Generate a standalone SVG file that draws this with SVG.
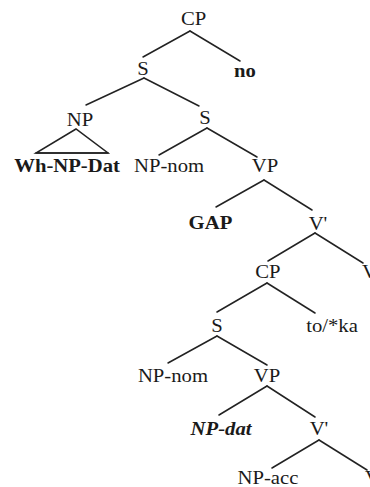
<svg xmlns="http://www.w3.org/2000/svg" width="370" height="487" viewBox="0 0 370 487">
  <style>
    .edge { stroke: #222; stroke-width: 1.5; fill: none; stroke-linecap: round; }
    .lbl { font-family: "Liberation Serif", "DejaVu Serif", serif; font-size: 18px; fill: #1a1a1a; text-anchor: middle; }
    .b { font-weight: bold; }
    .bi { font-weight: bold; font-style: italic; }
    .st { text-anchor: start; }
  </style>
  <rect width="370" height="487" fill="#fff"/>

  <!-- branches -->
  <g id="connectors">
    <line class="edge" x1="190" y1="31" x2="143" y2="57"/>
    <line class="edge" x1="190" y1="31" x2="240" y2="61"/>
    <line class="edge" x1="144" y1="78" x2="86" y2="105"/>
    <line class="edge" x1="144" y1="78" x2="199" y2="106"/>
    <line class="edge" x1="207" y1="128" x2="159" y2="155"/>
    <line class="edge" x1="207" y1="128" x2="257" y2="157"/>
    <line class="edge" x1="264" y1="180" x2="216" y2="207"/>
    <line class="edge" x1="264" y1="180" x2="312" y2="210"/>
    <line class="edge" x1="315" y1="233" x2="268" y2="261"/>
    <line class="edge" x1="315" y1="233" x2="363" y2="263"/>
    <line class="edge" x1="267" y1="283" x2="217" y2="312"/>
    <line class="edge" x1="267" y1="283" x2="315" y2="313"/>
    <line class="edge" x1="217" y1="336" x2="168" y2="363"/>
    <line class="edge" x1="217" y1="336" x2="267" y2="365"/>
    <line class="edge" x1="267" y1="386" x2="219" y2="415"/>
    <line class="edge" x1="267" y1="386" x2="315" y2="417"/>
    <line class="edge" x1="319" y1="440" x2="272" y2="468"/>
    <line class="edge" x1="319" y1="440" x2="367" y2="470"/>
    <!-- roof over the wh-phrase -->
    <path class="edge" d="M76 129 L36 153 L108 153 Z"/>
    <line class="edge" x1="36" y1="153" x2="108" y2="153" stroke-width="2.2"/>
  </g>

  <!-- labels: Times-style type set slightly wide -->
  <g transform="scale(1.15 1)" font-family="Liberation Serif, serif">
    <g id="cp1"><text class="lbl" x="168.3" y="25">CP</text></g>
    <g id="s1"><text class="lbl" x="124.3" y="75">S</text></g>
    <g id="no"><text class="lbl b" x="213" y="77">no</text></g>
    <g id="np1"><text class="lbl" x="69.6" y="126">NP</text></g>
    <g id="whnp"><text class="lbl b" x="58.3" y="172">Wh-NP-Dat</text></g>
    <g id="s2"><text class="lbl" x="178.3" y="124">S</text></g>
    <g id="npnom1"><text class="lbl" x="147" y="172">NP-nom</text></g>
    <g id="vp1"><text class="lbl" x="230.4" y="172">VP</text></g>
    <g id="gap"><text class="lbl b" x="183" y="229">GAP</text></g>
    <g id="vbar1"><text class="lbl" x="276.5" y="230">V'</text></g>
    <g id="cp2"><text class="lbl" x="233" y="278">CP</text></g>
    <g id="v1"><text class="lbl st" x="314.8" y="278">V</text></g>
    <g id="s3"><text class="lbl" x="188.7" y="332">S</text></g>
    <g id="toka"><text class="lbl" x="288.7" y="332">to/*ka</text></g>
    <g id="npnom2"><text class="lbl" x="150.4" y="382">NP-nom</text></g>
    <g id="vp2"><text class="lbl" x="232.2" y="382">VP</text></g>
    <g id="npdat"><text class="lbl bi" x="192.2" y="435">NP-dat</text></g>
    <g id="vbar2"><text class="lbl" x="277.4" y="435">V'</text></g>
    <g id="npacc"><text class="lbl" x="233" y="484">NP-acc</text></g>
    <g id="v2"><text class="lbl st" x="317.4" y="484">V</text></g>
  </g>
</svg>
